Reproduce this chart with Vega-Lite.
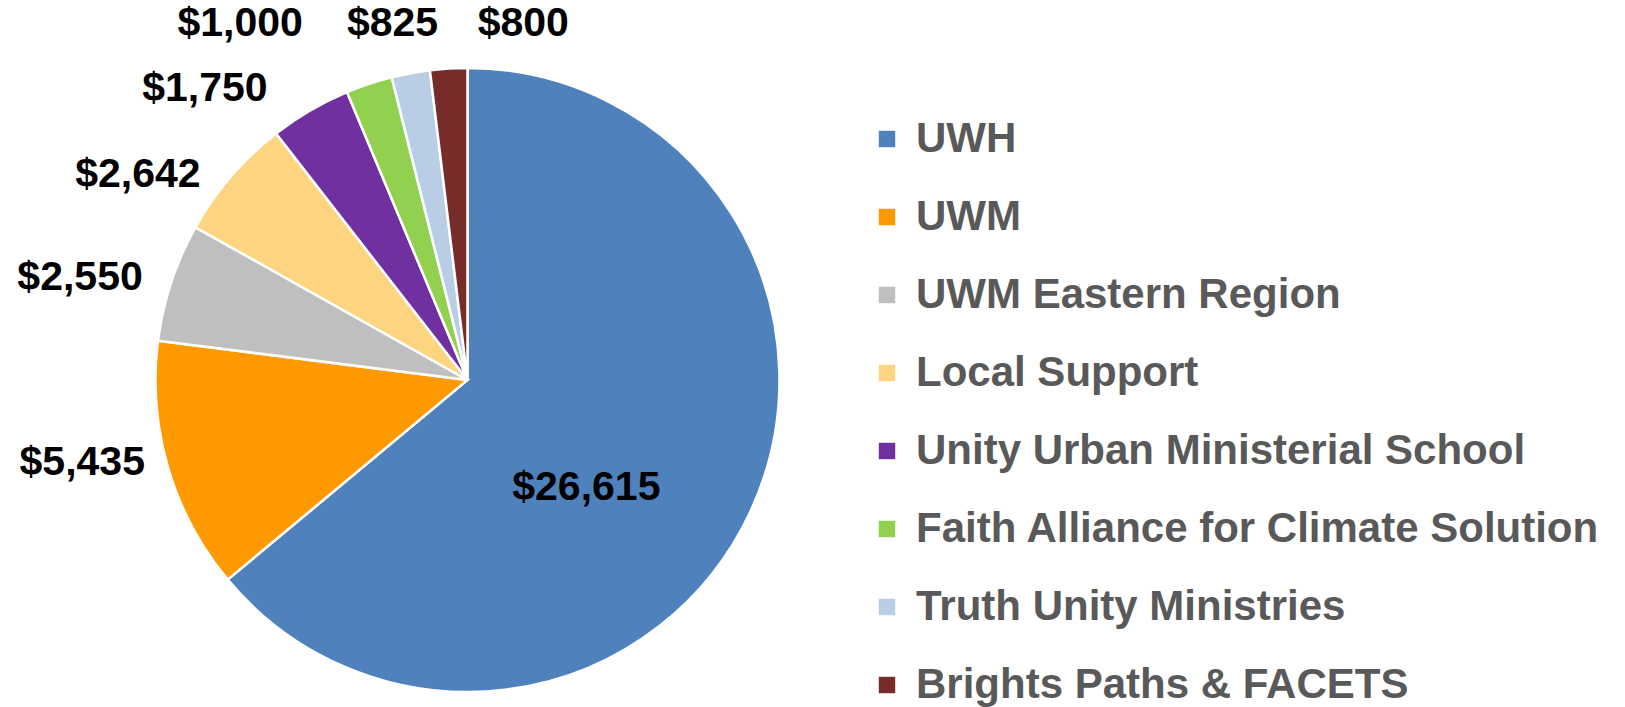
{
  "$schema": "https://vega.github.io/schema/vega-lite/v6.json",
  "width": 935,
  "height": 760,
  "autosize": {"type": "none"},
  "padding": {"left": 0, "top": 0, "right": 690, "bottom": 0},
  "background": "white",
  "config": {"view": {"stroke": null}, "font": "Liberation Sans"},
  "data": {
    "values": [
      {"org": "UWH", "amount": 26615, "idx": 1},
      {"org": "UWM", "amount": 5435, "idx": 2},
      {"org": "UWM Eastern Region", "amount": 2550, "idx": 3},
      {"org": "Local Support", "amount": 2642, "idx": 4},
      {"org": "Unity Urban Ministerial School", "amount": 1750, "idx": 5},
      {"org": "Faith Alliance for Climate Solution", "amount": 1000, "idx": 6},
      {"org": "Truth Unity Ministries", "amount": 825, "idx": 7},
      {"org": "Brights Paths & FACETS", "amount": 800, "idx": 8}
    ]
  },
  "encoding": {
    "theta": {"field": "amount", "type": "quantitative", "stack": true},
    "order": {"field": "idx", "type": "quantitative"}
  },
  "layer": [
    {
      "mark": {"type": "arc", "outerRadius": 312, "stroke": "white", "strokeWidth": 2.5},
      "encoding": {
        "color": {
          "field": "org",
          "type": "nominal",
          "sort": {"field": "idx"},
          "scale": {
            "domain": ["UWH", "UWM", "UWM Eastern Region", "Local Support", "Unity Urban Ministerial School", "Faith Alliance for Climate Solution", "Truth Unity Ministries", "Brights Paths & FACETS"],
            "range": ["#4F81BD", "#FF9900", "#BFBFBF", "#FDD47F", "#7030A0", "#92D050", "#B9CDE5", "#772C2A"]
          },
          "legend": {
            "title": null,
            "orient": "none",
            "legendX": 866,
            "legendY": 118,
            "symbolType": "square",
            "symbolSize": 270,
            "symbolStrokeWidth": 0,
            "labelFont": "Liberation Sans",
            "labelFontWeight": "bold",
            "labelFontSize": 42,
            "labelColor": "#595959",
            "labelOffset": 8,
            "labelLimit": 800,
            "rowPadding": 36,
            "padding": 0
          }
        }
      }
    },
    {
      "mark": {"type": "text", "radius": 160, "dx": -26, "dy": 40, "font": "Liberation Sans", "fontWeight": "bold", "fontSize": 41, "fill": "black", "align": "center", "baseline": "middle"},
      "encoding": {"text": {"condition": {"test": "datum.org == 'UWH'", "field": "amount", "type": "quantitative", "format": "$,.0f"}, "value": ""}}
    },
    {
      "mark": {"type": "text", "radius": 336, "dx": 0, "dy": -11, "font": "Liberation Sans", "fontWeight": "bold", "fontSize": 41, "fill": "black", "align": "right", "baseline": "middle"},
      "encoding": {"text": {"condition": {"test": "datum.org == 'UWM'", "field": "amount", "type": "quantitative", "format": "$,.0f"}, "value": ""}}
    },
    {
      "mark": {"type": "text", "radius": 342, "dx": 0, "dy": 5, "font": "Liberation Sans", "fontWeight": "bold", "fontSize": 41, "fill": "black", "align": "right", "baseline": "middle"},
      "encoding": {"text": {"condition": {"test": "datum.org == 'UWM Eastern Region'", "field": "amount", "type": "quantitative", "format": "$,.0f"}, "value": ""}}
    },
    {
      "mark": {"type": "text", "radius": 335, "dx": -13, "dy": 14, "font": "Liberation Sans", "fontWeight": "bold", "fontSize": 41, "fill": "black", "align": "right", "baseline": "middle"},
      "encoding": {"text": {"condition": {"test": "datum.org == 'Local Support'", "field": "amount", "type": "quantitative", "format": "$,.0f"}, "value": ""}}
    },
    {
      "mark": {"type": "text", "radius": 335, "dx": -31, "dy": -2, "font": "Liberation Sans", "fontWeight": "bold", "fontSize": 41, "fill": "black", "align": "right", "baseline": "middle"},
      "encoding": {"text": {"condition": {"test": "datum.org == 'Unity Urban Ministerial School'", "field": "amount", "type": "quantitative", "format": "$,.0f"}, "value": ""}}
    },
    {
      "mark": {"type": "text", "radius": 335, "dx": -59, "dy": -38, "font": "Liberation Sans", "fontWeight": "bold", "fontSize": 41, "fill": "black", "align": "right", "baseline": "middle"},
      "encoding": {"text": {"condition": {"test": "datum.org == 'Faith Alliance for Climate Solution'", "field": "amount", "type": "quantitative", "format": "$,.0f"}, "value": ""}}
    },
    {
      "mark": {"type": "text", "radius": 335, "dx": -14, "dy": -27, "font": "Liberation Sans", "fontWeight": "bold", "fontSize": 41, "fill": "black", "align": "center", "baseline": "middle"},
      "encoding": {"text": {"condition": {"test": "datum.org == 'Truth Unity Ministries'", "field": "amount", "type": "quantitative", "format": "$,.0f"}, "value": ""}}
    },
    {
      "mark": {"type": "text", "radius": 335, "dx": 76, "dy": -22, "font": "Liberation Sans", "fontWeight": "bold", "fontSize": 41, "fill": "black", "align": "center", "baseline": "middle"},
      "encoding": {"text": {"condition": {"test": "datum.org == 'Brights Paths & FACETS'", "field": "amount", "type": "quantitative", "format": "$,.0f"}, "value": ""}}
    }
  ]
}
